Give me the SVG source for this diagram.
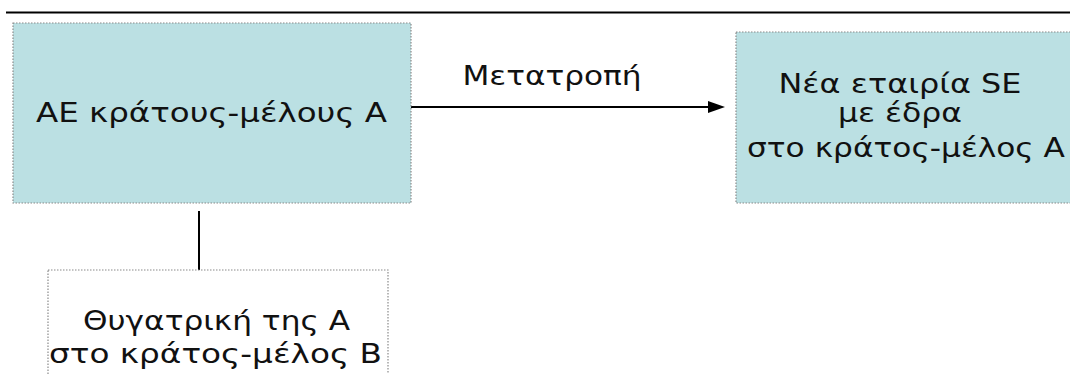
<svg xmlns="http://www.w3.org/2000/svg" width="1070" height="374" viewBox="0 0 1070 374">
  <style>
    .box { fill: #bbe0e3; stroke: #8a8a8a; stroke-width: 1.2; stroke-dasharray: 1.5 1.5; }
    .box-white { fill: #ffffff; stroke: #8a8a8a; stroke-width: 1.2; stroke-dasharray: 1.5 1.5; }
    .label { font-family: "DejaVu Sans", "Liberation Sans", sans-serif; font-size: 27px; fill: #111; }
    .conn { stroke: #000; stroke-width: 2; fill: none; }
  </style>
  <rect width="1070" height="374" fill="#ffffff"/>
  <line x1="6" y1="12.5" x2="1070" y2="12.5" stroke="#000" stroke-width="2"/>

  <g id="connectors">
    <line class="conn" x1="411" y1="107" x2="712" y2="107"/>
    <path d="M708,101 L725,107 L708,113 z" fill="#000"/>
    <line class="conn" x1="199" y1="211" x2="199" y2="270"/>
    <text class="label" x="552" y="85" text-anchor="middle" textLength="179" lengthAdjust="spacingAndGlyphs">Μετατροπή</text>
  </g>

  <g id="node-ae">
    <rect class="box" x="13" y="23" width="398" height="180"/>
    <text class="label" x="211.5" y="122" text-anchor="middle" textLength="351" lengthAdjust="spacingAndGlyphs">ΑΕ κράτους-μέλους Α</text>
  </g>

  <g id="node-se">
    <rect class="box" x="736" y="32" width="340" height="171"/>
    <text class="label" x="900" y="93" text-anchor="middle" textLength="243" lengthAdjust="spacingAndGlyphs">Νέα εταιρία SE</text>
    <text class="label" x="900" y="122" text-anchor="middle" textLength="124" lengthAdjust="spacingAndGlyphs">με έδρα</text>
    <text class="label" x="906" y="157" text-anchor="middle" textLength="318" lengthAdjust="spacingAndGlyphs">στο κράτος-μέλος Α</text>
  </g>

  <g id="node-subsidiary">
    <rect class="box-white" x="48" y="270" width="340" height="120"/>
    <text class="label" x="216.5" y="330" text-anchor="middle" textLength="267" lengthAdjust="spacingAndGlyphs">Θυγατρική της Α</text>
    <text class="label" x="215.5" y="363" text-anchor="middle" textLength="333" lengthAdjust="spacingAndGlyphs">στο κράτος-μέλος Β</text>
  </g>
</svg>
